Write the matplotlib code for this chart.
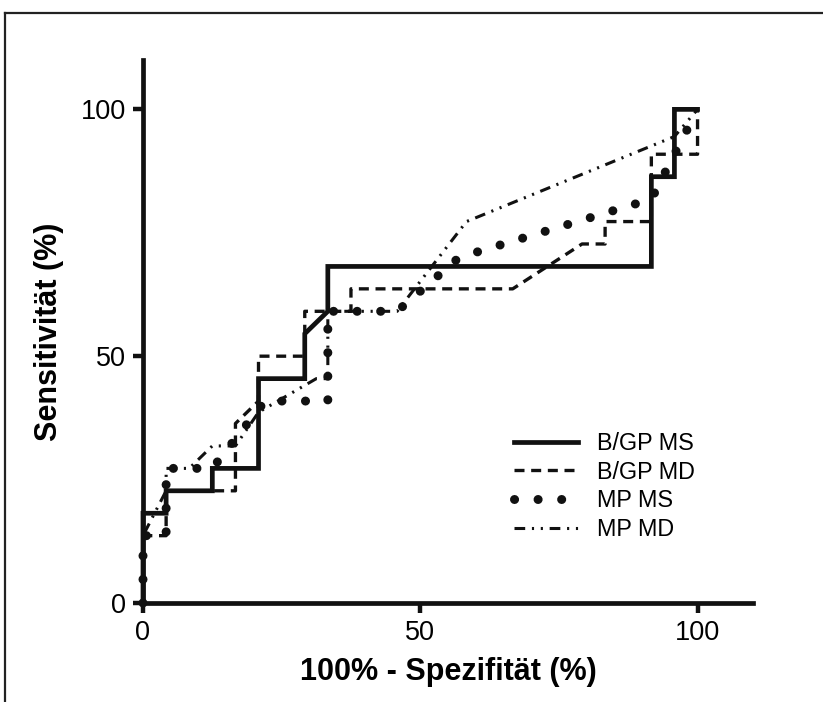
import matplotlib
matplotlib.use("Agg")
import matplotlib.pyplot as plt
from matplotlib.lines import Line2D

# ROC curves, values (x = 100% - specificity, y = sensitivity)
bgp_ms_x = [0, 0, 4.17, 4.17, 12.5, 12.5, 20.83, 20.83, 29.17, 29.17, 33.33, 33.33,
            91.67, 91.67, 95.83, 95.83, 100]
bgp_ms_y = [0, 18.18, 18.18, 22.73, 22.73, 27.27, 27.27, 45.45, 45.45, 54.55, 59.09, 68.18,
            68.18, 86.36, 86.36, 100, 100]

bgp_md_x = [0, 0, 4.17, 4.17, 16.67, 16.67, 20.83, 20.83, 29.17, 29.17, 37.5, 37.5,
            66.67, 79.17, 83.33, 83.33, 91.67, 91.67, 100, 100]
bgp_md_y = [0, 13.64, 13.64, 22.73, 22.73, 36.36, 40.91, 50, 50, 59.09, 59.09, 63.64,
            63.64, 72.73, 72.73, 77.27, 77.27, 90.91, 90.91, 100]

mp_ms_x = [0, 0, 4.17, 4.17, 12.5, 22.0, 33.33, 33.33, 45.83, 57.0, 91.67, 100]
mp_ms_y = [0, 13.64, 13.64, 27.27, 27.27, 40.91, 40.91, 59.09, 59.09, 70.0, 81.82, 100]

mp_md_x = [0, 0, 4.17, 4.17, 8.33, 12.5, 16.67, 20.83, 31.25, 33.33, 33.33, 45.83,
           58.33, 95.83, 100]
mp_md_y = [0, 13.64, 22.73, 27.27, 27.27, 31.82, 31.82, 38.64, 45.45, 45.45, 59.09, 59.09,
           77.27, 94.5, 100]

labels = ["B/GP MS", "B/GP MD", "MP MS", "MP MD"]
ticks = [0, 50, 100]

plt.rcParams["font.family"] = ["Liberation Sans", "DejaVu Sans"]

fig = plt.figure(figsize=(8.23, 7.02), dpi=100)
ax = fig.add_axes([143 / 823, 1 - 603 / 702, 610 / 823, 543 / 702])

# outer frame (only top and left edges are visible)
fig.add_artist(Line2D([5 / 823, 5 / 823], [0, 1 - 13 / 702], transform=fig.transFigure,
                      color="#222222", lw=1.6))
fig.add_artist(Line2D([5 / 823, 1], [1 - 13 / 702, 1 - 13 / 702], transform=fig.transFigure,
                      color="#222222", lw=1.6))

k = "#111111"
ax.plot(bgp_ms_x, bgp_ms_y, color=k, lw=3.4, solid_joinstyle="miter", clip_on=False,
        label=labels[0])
ax.plot(bgp_md_x, bgp_md_y, color=k, lw=2.4, linestyle=(0, (3.0, 2.0)), clip_on=False,
        label=labels[1])
ax.plot(mp_ms_x, mp_ms_y, color=k, lw=6.5, linestyle=(0, (0.01, 2.6)), dash_capstyle="round",
        clip_on=False, label=labels[2])
ax.plot(mp_md_x, mp_md_y, color=k, lw=2.2, linestyle=(0, (3.5, 2.2, 0.7, 2.2, 0.7, 2.2)),
        clip_on=False, label=labels[3])

ax.set_xlim(0, 110)
ax.set_ylim(0, 110)
ax.set_xticks(ticks)
ax.set_yticks(ticks)
ax.tick_params(labelsize=19.5, width=3.2, length=7, color=k, pad=5)
for s in ["top", "right"]:
    ax.spines[s].set_visible(False)
for s in ["left", "bottom"]:
    ax.spines[s].set_linewidth(3.4)
    ax.spines[s].set_color(k)

ax.set_xlabel("100% - Spezifität (%)", fontsize=22, fontweight="bold", labelpad=8)
ax.set_ylabel("Sensitivität (%)", fontsize=22, fontweight="bold", labelpad=12)

ax.legend(loc="upper left", bbox_to_anchor=(493 / 823, 1 - 411 / 702),
          bbox_transform=fig.transFigure, frameon=False, fontsize=16.8, handlelength=2.75,
          handletextpad=0.8, labelspacing=0.24)

fig.savefig("out.png", dpi=100)
